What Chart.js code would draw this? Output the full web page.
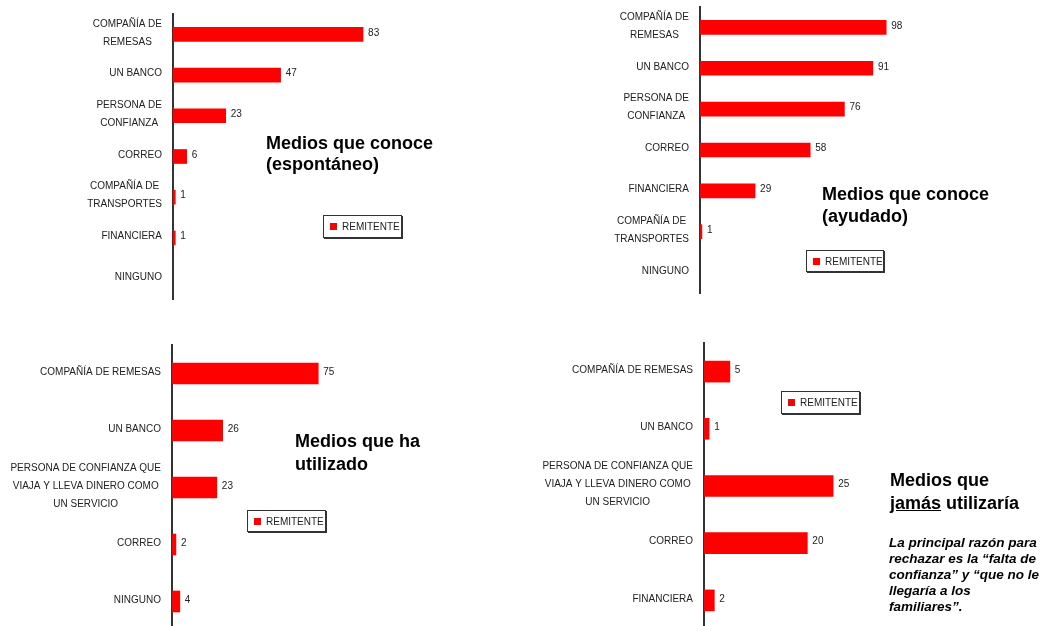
<!DOCTYPE html>
<html>
<head>
<meta charset="utf-8">
<script src="https://cdn.jsdelivr.net/npm/chart.js@4/dist/chart.umd.min.js"></script>
<style>
  html, body { margin:0; padding:0; background:#fff; }
  body { width:1047px; height:626px; overflow:hidden; position:relative; font-family:"Liberation Sans", Arial, sans-serif; }
  canvas { position:absolute; }
  .title { position:absolute; font-weight:bold; color:#000; white-space:nowrap; }
  .note { position:absolute; font-weight:bold; font-style:italic; font-size:13.5px; line-height:16px; color:#000; white-space:nowrap; }
  .legend { position:absolute; box-sizing:border-box; border:1px solid #333; box-shadow:1px 1px 0 #333; background:#fff;
            font-size:10px; color:#222; display:flex; align-items:center; }
  .legend .sw { width:7px; height:7px; background:#ff0000; margin-left:6px; margin-right:5px; }
</style>
</head>
<body>
<canvas id="c1" width="520" height="310" style="left:0;top:0"></canvas>
<canvas id="c2" width="527" height="310" style="left:520px;top:0"></canvas>
<canvas id="c3" width="520" height="330" style="left:0;top:310px"></canvas>
<canvas id="c4" width="527" height="330" style="left:520px;top:310px"></canvas>

<div class="title" style="left:266px;top:133px;font-size:18px;line-height:21px;">Medios que conoce<br>(espontáneo)</div>
<div class="title" style="left:822px;top:183px;font-size:18px;line-height:22px;">Medios que conoce<br>(ayudado)</div>
<div class="title" style="left:295px;top:430px;font-size:18px;line-height:23px;">Medios que ha<br>utilizado</div>
<div class="title" style="left:890px;top:469px;font-size:18px;line-height:22.5px;">Medios que<br><u>jamás</u> utilizaría</div>
<div class="note" style="left:889px;top:535px;">La principal razón para<br>rechazar es la “falta de<br>confianza” y “que no le<br>llegaría a los<br>familiares”.</div>

<div class="legend" style="left:323px;top:215px;width:79px;height:23px;"><span class="sw"></span>REMITENTE</div>
<div class="legend" style="left:806px;top:250px;width:78px;height:22px;"><span class="sw"></span>REMITENTE</div>
<div class="legend" style="left:247px;top:510px;width:79px;height:22px;"><span class="sw"></span>REMITENTE</div>
<div class="legend" style="left:781px;top:391px;width:79px;height:23px;"><span class="sw"></span>REMITENTE</div>

<script>
const seriesName = "REMITENTE";

const espontaneoLabels = [["COMPAÑÍA DE","REMESAS"],"UN BANCO",["PERSONA DE","CONFIANZA"],"CORREO",["COMPAÑÍA DE","TRANSPORTES"],"FINANCIERA","NINGUNO"];
const espontaneoValues = [83,47,23,6,1,1,null];

const ayudadoLabels = [["COMPAÑÍA DE","REMESAS"],"UN BANCO",["PERSONA DE","CONFIANZA"],"CORREO","FINANCIERA",["COMPAÑÍA DE","TRANSPORTES"],"NINGUNO"];
const ayudadoValues = [98,91,76,58,29,1,null];

const utilizadoLabels = ["COMPAÑÍA DE REMESAS","UN BANCO",["PERSONA DE CONFIANZA QUE","VIAJA Y LLEVA DINERO COMO","UN SERVICIO"],"CORREO","NINGUNO"];
const utilizadoValues = [75,26,23,2,4];

const jamasLabels = ["COMPAÑÍA DE REMESAS","UN BANCO",["PERSONA DE CONFIANZA QUE","VIAJA Y LLEVA DINERO COMO","UN SERVICIO"],"CORREO","FINANCIERA"];
const jamasValues = [5,1,25,20,2];

const FONT = '10px "Liberation Sans", Arial, sans-serif';

const labelPlugin = {
  id: 'customLabels',
  afterDraw(chart) {
    const ctx = chart.ctx;
    const ys = chart.scales.y;
    ctx.save();
    ctx.font = FONT;
    ctx.fillStyle = '#222';
    ctx.textBaseline = 'middle';
    chart.data.labels.forEach((lab, i) => {
      const lines = Array.isArray(lab) ? lab : [lab];
      const w = Math.max(...lines.map(l => ctx.measureText(l).width));
      const cx = ys.right - 11 - w / 2;
      const cy = ys.getPixelForValue(i);
      ctx.textAlign = 'center';
      lines.forEach((l, k) => {
        ctx.fillText(l, cx, cy - 1.5 + (k - (lines.length - 1) / 2) * 18);
      });
    });
    const meta = chart.getDatasetMeta(0);
    const vals = chart.data.datasets[0].data;
    ctx.textAlign = 'left';
    meta.data.forEach((bar, i) => {
      const v = vals[i];
      if (v === null || v === undefined) return;
      ctx.fillText(String(v), bar.x + 5, bar.y - 1.5);
    });
    ctx.restore();
  }
};

function makeChart(id, labels, values, cfg) {
  return new Chart(document.getElementById(id), {
    type: 'bar',
    data: {
      labels: labels,
      datasets: [{
        label: seriesName,
        data: values,
        backgroundColor: '#ff0000',
        borderWidth: 0,
        barThickness: cfg.bar
      }]
    },
    options: {
      indexAxis: 'y',
      responsive: false,
      animation: false,
      devicePixelRatio: 1,
      layout: { padding: { left: 0, top: cfg.top, bottom: cfg.bottom, right: cfg.right } },
      plugins: { legend: { display: false }, tooltip: { enabled: false } },
      scales: {
        x: { display: false, min: 0, max: cfg.max },
        y: {
          display: true,
          grid: { display: false, drawTicks: false },
          border: { display: true, color: '#333', width: 2 },
          ticks: { display: false },
          afterFit(scale) { scale.width = cfg.axisX; }
        }
      }
    },
    plugins: [labelPlugin]
  });
}

makeChart('c1', espontaneoLabels, espontaneoValues, { axisX: 173, top: 14, bottom: 11, right: 118, max: 100, bar: 14 });
makeChart('c2', ayudadoLabels, ayudadoValues, { axisX: 180, top: 7, bottom: 17, right: 157, max: 100, bar: 14 });
makeChart('c3', utilizadoLabels, utilizadoValues, { axisX: 172, top: 35, bottom: 10, right: 153, max: 100, bar: 21 });
makeChart('c4', jamasLabels, jamasValues, { axisX: 184, top: 33, bottom: 11, right: 188, max: 30, bar: 21 });
</script>
</body>
</html>
